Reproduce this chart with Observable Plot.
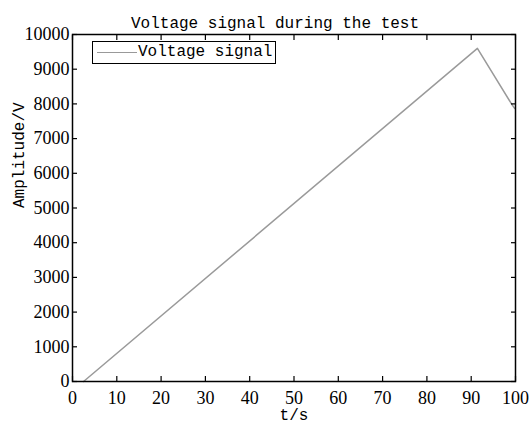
<!DOCTYPE html>
<html>
<head>
<meta charset="utf-8">
<script src="https://cdn.jsdelivr.net/npm/d3@7"></script>
<script src="https://cdn.jsdelivr.net/npm/@observablehq/plot@0.6"></script>
<style>
  html, body { margin: 0; padding: 0; background: #fff; }
  #wrap { position: relative; width: 530px; height: 425px; }
  #legend {
    position: absolute; left: 92px; top: 41px; width: 182px; height: 21px;
    border: 1px solid #000; background: #fff; box-sizing: content-box;
    font: 16px "Liberation Mono", monospace; color: #000;
  }
  #legend .sw { position: absolute; left: 4px; top: 10px; width: 40px; border-top: 1.5px solid #999; }
  #legend .lb { position: absolute; left: 45px; top: 1px; line-height: 19px; }
</style>
</head>
<body>
<div id="wrap"></div>
<script>
const title = "Voltage signal during the test";
const xLabel = "t/s";
const yLabel = "Amplitude/V";
const seriesName = "Voltage signal";
const time = [2.5, 91.4, 99.0, 99.8];
const voltage = [0, 9600, 8020, 7870];
const xTicks = [0, 10, 20, 30, 40, 50, 60, 70, 80, 90, 100];
const yTicks = [0, 1000, 2000, 3000, 4000, 5000, 6000, 7000, 8000, 9000, 10000];

const data = time.map((t, i) => ({t, v: voltage[i]}));
const mono = "'Liberation Mono', monospace";
const serif = "'Liberation Serif', 'Times New Roman', serif";

const chart = Plot.plot({
  width: 530,
  height: 425,
  marginLeft: 72,
  marginRight: 15,
  marginTop: 34,
  marginBottom: 44,
  style: {fontFamily: serif, fontSize: "18px", color: "#000", background: "#fff"},
  x: {domain: [0, 100]},
  y: {domain: [0, 10000]},
  marks: [
    Plot.line(data, {x: "t", y: "v", stroke: "#9a9a9a", strokeWidth: 1.5}),
    // inward tick marks on all four sides
    Plot.axisX({ticks: xTicks, tickSize: -5, text: null, label: null, strokeWidth: 1.2}),
    Plot.axisX({anchor: "top", ticks: xTicks, tickSize: -5, text: null, label: null, strokeWidth: 1.2}),
    Plot.axisY({ticks: yTicks, tickSize: -5, text: null, label: null, strokeWidth: 1.2}),
    Plot.axisY({anchor: "right", ticks: yTicks, tickSize: -5, text: null, label: null, strokeWidth: 1.2}),
    // tick labels
    Plot.axisX({ticks: xTicks, tickSize: 0, tickPadding: 10, label: null, fontFamily: serif, fontSize: 18}),
    Plot.axisY({ticks: yTicks, tickSize: 0, tickPadding: 3, tickFormat: d => String(d), label: null, fontFamily: serif, fontSize: 18}),
    Plot.frame({stroke: "#000", strokeWidth: 1.5}),
    Plot.text([title], {frameAnchor: "top", dy: -18, dx: -19, fontFamily: mono, fontSize: 16, fill: "#000"}),
    Plot.text([xLabel], {frameAnchor: "bottom", lineAnchor: "middle", dy: 33, fontFamily: mono, fontSize: 16, fill: "#000"}),
    Plot.text([yLabel], {frameAnchor: "left", dx: -54, rotate: -90, fontFamily: mono, fontSize: 16, fill: "#000"})
  ]
});

const wrap = document.getElementById("wrap");
wrap.appendChild(chart);
const lg = document.createElement("div");
lg.id = "legend";
lg.innerHTML = `<div class="sw"></div><div class="lb"></div>`;
lg.querySelector(".lb").textContent = seriesName;
wrap.appendChild(lg);
</script>
</body>
</html>
